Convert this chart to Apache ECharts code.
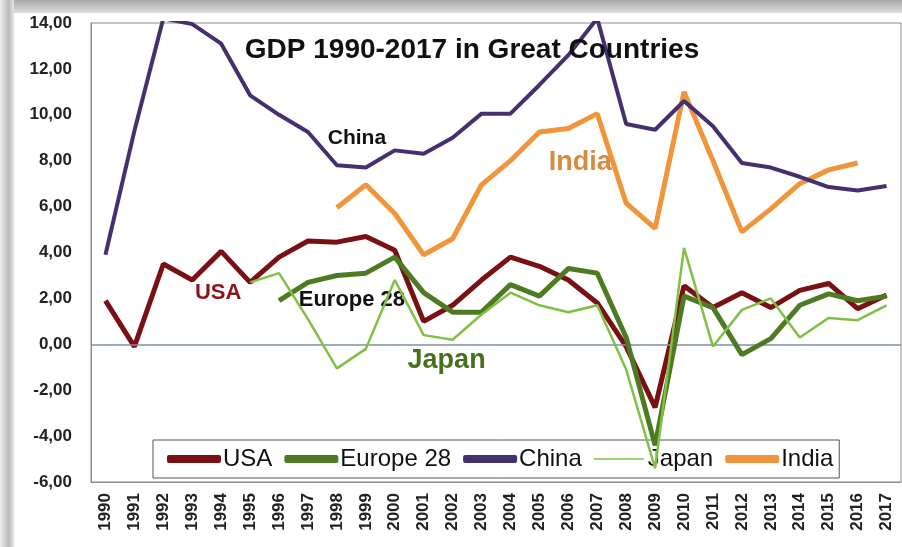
<!DOCTYPE html>
<html>
<head>
<meta charset="utf-8">
<script src="https://cdn.jsdelivr.net/npm/echarts@6/dist/echarts.min.js"></script>
<style>html,body{margin:0;padding:0;background:#fff;}#c{width:902px;height:547px;}</style>
</head>
<body>
<div id="c"></div>
<script>
var years = ['1990','1991','1992','1993','1994','1995','1996','1997','1998','1999','2000','2001','2002','2003','2004','2005','2006','2007','2008','2009','2010','2011','2012','2013','2014','2015','2016','2017'];
var usa    = [1.9,-0.1,3.5,2.8,4.05,2.7,3.8,4.5,4.45,4.7,4.1,1.0,1.7,2.8,3.8,3.4,2.8,1.8,-0.1,-2.75,2.55,1.6,2.25,1.6,2.35,2.65,1.55,2.15];
var europe = [null,null,null,null,null,null,1.9,2.7,3.0,3.1,3.8,2.25,1.4,1.4,2.6,2.1,3.3,3.1,0.3,-4.4,2.1,1.6,-0.45,0.25,1.7,2.2,1.9,2.1];
var china  = [3.9,9.3,14.2,13.95,13.1,10.85,10.0,9.25,7.8,7.7,8.45,8.3,9.0,10.05,10.05,11.3,12.6,14.2,9.6,9.35,10.6,9.5,7.9,7.7,7.3,6.85,6.7,6.9];
var japan  = [null,null,null,null,null,2.7,3.1,1.1,-1.05,-0.2,2.8,0.4,0.2,1.3,2.25,1.7,1.4,1.7,-1.1,-5.4,4.2,-0.1,1.5,2.0,0.3,1.15,1.05,1.7];
var india  = [null,null,null,null,null,null,null,null,5.95,6.95,5.7,3.9,4.6,6.95,8.0,9.25,9.4,10.05,6.15,5.05,11.0,8.0,4.9,5.9,7.0,7.6,7.9,null];
var seriesNames = ['USA','Europe 28','China','Japan','India'];
var titleText = 'GDP 1990-2017 in Great Countries';

var FONT = 'Liberation Sans, Arial, sans-serif';
var chart = echarts.init(document.getElementById('c'), null, {renderer:'canvas'});
var lbl = function(text, idx, val, ox, oy, color, size){
  return {coord:[idx,val], symbolSize:0, label:{show:true, formatter:text, position:'inside', offset:[ox,oy], color:color, fontSize:size, fontWeight:'bold', fontFamily:FONT}};
};
chart.setOption({
  animation:false,
  backgroundColor:'#fff',
  graphic:[
    {type:'rect', shape:{x:0,y:0,width:902,height:13}, style:{fill:new echarts.graphic.LinearGradient(0,0,0,1,[{offset:0,color:'#a8a8a8'},{offset:1,color:'#dedede'}])}, z:-10},
    {type:'rect', shape:{x:0,y:0,width:14,height:547}, style:{fill:new echarts.graphic.LinearGradient(0,0,1,0,[{offset:0,color:'#eeeeee'},{offset:0.6,color:'#b9b9b9'},{offset:1,color:'#e6e6e6'}])}, z:-10}
  ],
  title:{text:titleText, left:467, top:31, textAlign:'center', textStyle:{fontSize:28, fontWeight:'bold', color:'#111', fontFamily:FONT}},
  grid:{left:91, right:1, top:23, bottom:65, show:true, borderColor:'#8c8c8c', borderWidth:1},
  legend:{
    data:[
      {name:'USA', icon:'roundRect'},
      {name:'Europe 28', icon:'roundRect'},
      {name:'China', icon:'roundRect'},
      {name:'Japan', icon:'path://M0,0L0.5,0L0.5,0.01Z M0,3.2L50,3.2L50,4.8L0,4.8Z M0,8L0.5,8L0.5,7.99Z'},
      {name:'India', icon:'roundRect'}
    ],
    left:153, top:440, width:700, height:42,
    padding:[7,6,7,14], itemGap:12, itemWidth:54, itemHeight:8,
    borderColor:'#555', borderWidth:1, backgroundColor:'#fff',
    textStyle:{fontSize:24, color:'#111', fontFamily:FONT, padding:[0,0,0,-3]}
  },
  xAxis:{
    type:'category', data:years, boundaryGap:true,
    axisLine:{onZero:false, lineStyle:{color:'#8c8c8c'}},
    axisTick:{show:false},
    axisLabel:{rotate:90, margin:11, fontSize:17, fontWeight:'bold', color:'#222', fontFamily:FONT, interval:0}
  },
  yAxis:{
    type:'value', min:-6, max:14, interval:2,
    axisLine:{show:true, lineStyle:{color:'#8c8c8c'}},
    axisTick:{show:false},
    splitLine:{show:false},
    axisLabel:{margin:19, fontSize:17, fontWeight:'bold', color:'#222', fontFamily:FONT, formatter:function(v){return v.toFixed(2).replace('.',',');}}
  },
  series:[
    {name:'USA', type:'line', data:usa, showSymbol:false, symbol:'none', clip:true, lineStyle:{width:5, color:'#7a1014'}, itemStyle:{color:'#7a1014'}, z:4,
      markLine:{silent:true, symbol:'none', label:{show:false}, lineStyle:{color:'#7d8fa6', width:1.5, type:'solid'}, data:[{yAxis:0}]},
      markPoint:{silent:true, data:[lbl('USA',4,2.22,-3,0,'#8a1418',22)]}},
    {name:'Europe 28', type:'line', data:europe, showSymbol:false, symbol:'none', clip:true, lineStyle:{width:5, color:'#4e7a22'}, itemStyle:{color:'#4e7a22'}, z:5,
      markPoint:{silent:true, data:[lbl('Europe 28',8,1.92,15,0,'#111',22)]}},
    {name:'China', type:'line', data:china, showSymbol:false, symbol:'none', clip:true, lineStyle:{width:4, color:'#45306f'}, itemStyle:{color:'#45306f'}, z:3,
      markPoint:{silent:true, data:[lbl('China',8,8.98,20,0,'#111',21)]}},
    {name:'Japan', type:'line', data:japan, showSymbol:false, symbol:'none', clip:true, lineStyle:{width:2.5, color:'#7fc045'}, itemStyle:{color:'#7fc045'}, z:6,
      markPoint:{silent:true, data:[lbl('Japan',12,-0.7,-6,0,'#4a6e1e',27)]}},
    {name:'India', type:'line', data:india, showSymbol:false, symbol:'none', clip:true, lineStyle:{width:5, color:'#f0953a'}, itemStyle:{color:'#f0953a'}, z:2,
      markPoint:{silent:true, data:[lbl('India',16,7.94,12,0,'#d98a3e',27)]}}
  ]
});
</script>
</body>
</html>
